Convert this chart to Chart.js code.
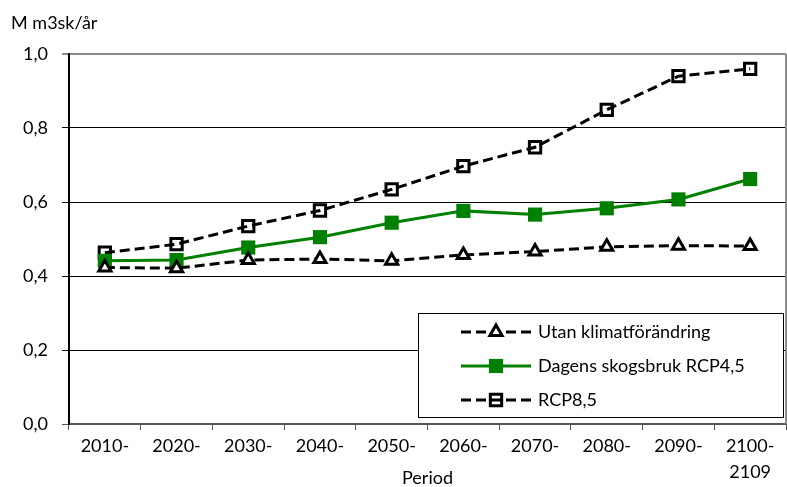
<!DOCTYPE html>
<html>
<head>
<meta charset="utf-8">
<script src="https://cdn.jsdelivr.net/npm/chart.js@4.4.1/dist/chart.umd.min.js"></script>
<style>
  html, body { margin: 0; padding: 0; background: #fff; }
</style>
</head>
<body>
<canvas id="chart" width="787" height="487"></canvas>
<script>
// Periods on the x axis (last one spans two lines)
const periods = ['2010-', '2020-', '2030-', '2040-', '2050-', '2060-', '2070-', '2080-', '2090-', ['2100-', '2109']];

// Volumes, M m3sk per year
const utanKlimat = [0.423, 0.421, 0.443, 0.446, 0.441, 0.457, 0.466, 0.479, 0.482, 0.481];
const dagensRcp45 = [0.441, 0.443, 0.477, 0.505, 0.544, 0.576, 0.566, 0.583, 0.607, 0.662];
const rcp85 = [0.463, 0.486, 0.535, 0.577, 0.634, 0.697, 0.748, 0.849, 0.940, 0.960];

const yMin = 0, yMax = 1, yStep = 0.2;
const unitLabel = 'M m3sk/år';

Chart.defaults.font.family = 'Lato';
Chart.defaults.font.size = 18;
Chart.defaults.color = '#000';

// unit text above the y axis
const unitTitle = {
  id: 'unitTitle',
  afterDraw(chart) {
    const { ctx } = chart;
    ctx.save();
    ctx.font = '18px Lato';
    ctx.fillStyle = '#000';
    ctx.textBaseline = 'alphabetic';
    ctx.fillText(unitLabel, 11, 29);
    ctx.restore();
  }
};

// grey frame on the right side of the plot
const rightFrame = {
  id: 'rightFrame',
  beforeDatasetsDraw(chart) {
    const { ctx, chartArea } = chart;
    ctx.save();
    ctx.strokeStyle = '#8a8a8a';
    ctx.lineWidth = 2;
    ctx.beginPath();
    ctx.moveTo(chartArea.right, chartArea.top);
    ctx.lineTo(chartArea.right, chartArea.bottom);
    ctx.stroke();
    ctx.restore();
  }
};

// boxed legend inside the plot, lower right
const boxLegend = {
  id: 'boxLegend',
  afterDatasetsDraw(chart) {
    const { ctx, chartArea } = chart;
    const w = 365, h = 104;
    const x = chartArea.right - 3 - w;
    const y = chartArea.bottom - 7 - h;
    ctx.save();
    ctx.fillStyle = '#fff';
    ctx.fillRect(x, y, w, h);
    ctx.strokeStyle = '#000';
    ctx.lineWidth = 1;
    ctx.strokeRect(x + 0.5, y + 0.5, w, h);
    chart.data.datasets.forEach((ds, i) => {
      const cy = y + 19 + i * 34;
      const x0 = x + 43, x1 = x + 113;
      ctx.setLineDash(ds.borderDash || []);
      ctx.strokeStyle = ds.borderColor;
      ctx.lineWidth = ds.borderWidth;
      ctx.beginPath();
      ctx.moveTo(x0, cy);
      ctx.lineTo(x1, cy);
      ctx.stroke();
      ctx.setLineDash([]);
      ctx.fillStyle = ds.pointBackgroundColor;
      ctx.strokeStyle = ds.pointBorderColor;
      ctx.lineWidth = ds.pointBorderWidth;
      Chart.helpers.drawPoint(ctx, {
        pointStyle: ds.pointStyle,
        radius: ds.pointRadius,
        borderWidth: ds.pointBorderWidth,
        rotation: 0
      }, (x0 + x1) / 2, cy);
      ctx.fillStyle = '#000';
      ctx.font = '18px Lato';
      ctx.textBaseline = 'middle';
      ctx.fillText(ds.label, x + 120, cy);
    });
    ctx.restore();
  }
};

new Chart(document.getElementById('chart'), {
  type: 'line',
  data: {
    labels: periods,
    datasets: [
      {
        label: 'Utan klimatförändring',
        data: utanKlimat,
        borderColor: '#000',
        borderWidth: 3,
        borderDash: [10, 5],
        pointStyle: 'triangle',
        pointRadius: 7,
        pointBorderWidth: 3,
        pointBackgroundColor: '#fff',
        pointBorderColor: '#000'
      },
      {
        label: 'Dagens skogsbruk RCP4,5',
        data: dagensRcp45,
        borderColor: '#008000',
        borderWidth: 3,
        pointStyle: 'rect',
        pointRadius: 10,
        pointBorderWidth: 0,
        pointBackgroundColor: '#008000',
        pointBorderColor: '#008000'
      },
      {
        label: 'RCP8,5',
        data: rcp85,
        borderColor: '#000',
        borderWidth: 3,
        borderDash: [10, 5],
        pointStyle: 'rect',
        pointRadius: 8,
        pointBorderWidth: 3,
        pointBackgroundColor: 'rgba(0,0,0,0)',
        pointBorderColor: '#000'
      }
    ]
  },
  options: {
    responsive: false,
    animation: false,
    devicePixelRatio: 1,
    layout: { autoPadding: false, padding: { top: 54, right: 1, bottom: 0, left: 0 } },
    elements: { line: { tension: 0 } },
    plugins: {
      legend: { display: false },
      tooltip: { enabled: false }
    },
    scales: {
      x: {
        offset: true,
        afterFit(scale) {
          scale.height = 63;
          scale.paddingLeft = 0;
          scale.paddingRight = 0;
        },
        grid: {
          offset: true,
          drawOnChartArea: false,
          tickLength: 6,
          color: '#555',
          lineWidth: 1
        },
        border: { color: '#555', width: 2 },
        ticks: {
          padding: 4,
          maxRotation: 0,
          autoSkip: false,
          font: { size: 18, lineHeight: 1.4 }
        },
        title: {
          display: true,
          text: 'Period',
          padding: { top: 0, bottom: 0 },
          font: { size: 18, lineHeight: 1 }
        }
      },
      y: {
        min: yMin,
        max: yMax,
        afterFit(scale) { scale.width = 69; },
        grid: {
          tickLength: 7,
          color: (c) => c.tick && c.tick.value === yMax ? '#8a8a8a' : (c.tick && c.tick.value === yMin ? '#555' : '#000'),
          lineWidth: (c) => c.tick && c.tick.value === yMax ? 2 : 1
        },
        border: { color: '#000', width: 2 },
        ticks: {
          stepSize: yStep,
          padding: 14,
          callback: (v) => v.toFixed(1).replace('.', ',')
        }
      }
    }
  },
  plugins: [rightFrame, boxLegend, unitTitle]
});
</script>
</body>
</html>
